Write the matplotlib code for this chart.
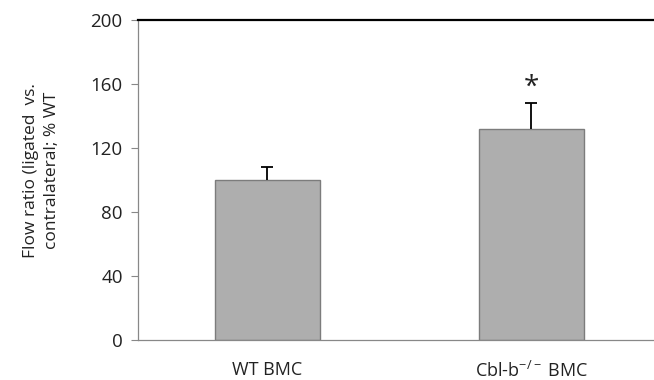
import matplotlib
matplotlib.use("Agg")
import matplotlib.pyplot as plt

categories = ["WT BMC", "Cbl-b$^{-/-}$ BMC"]
values = [100, 132]
errors_upper = [8, 16]
significance = ["", "*"]
y_ticks = [0, 40, 80, 120, 160, 200]

plt.rcParams["font.family"] = ["Open Sans", "DejaVu Sans"]
plt.rcParams["mathtext.default"] = "regular"

fig = plt.figure(figsize=(6.54, 3.80), dpi=100)
ax = fig.add_axes([0.211, 0.105, 0.789, 0.842])

x = list(range(len(categories)))
ax.bar(x, values, width=0.4, color="#aeaeae", edgecolor="#7c7c7c", linewidth=1.0, zorder=2)
_, caps, _ = ax.errorbar(x, values, yerr=[[0] * len(values), errors_upper], fmt="none",
                         ecolor="black", elinewidth=1.3, capsize=4, capthick=1.3, zorder=3)
# only the upper whisker carries a cap
caps[0].set_visible(False)

for xi, v, e, s in zip(x, values, errors_upper, significance):
    if s:
        ax.annotate(s, (xi, v + e), xytext=(0, 1), textcoords="offset points",
                    ha="center", va="bottom", fontsize=20, color="#222222")

ax.set_xlim(-0.49, 1.464)
ax.set_ylim(0, 200)
ax.set_yticks(y_ticks)
ax.set_xticks(x)
ax.set_xticklabels(categories, fontsize=13, color="#222222")
ax.tick_params(axis="y", labelsize=13.5, colors="#222222", length=5, width=0.8,
               color="#888888", pad=6)
ax.tick_params(axis="x", length=0, pad=15)

ax.spines["right"].set_visible(False)
ax.spines["top"].set_color("black")
ax.spines["top"].set_linewidth(1.6)
ax.spines["left"].set_color("#888888")
ax.spines["left"].set_linewidth(0.9)
ax.spines["bottom"].set_color("#888888")
ax.spines["bottom"].set_linewidth(0.9)

ax.set_ylabel("Flow ratio (ligated  vs.\ncontralateral; % WT", fontsize=12.5,
              color="#222222", linespacing=1.4)
ax.yaxis.set_label_coords(-0.151, 0.53)

fig.savefig("out.png", dpi=100, facecolor="white")
